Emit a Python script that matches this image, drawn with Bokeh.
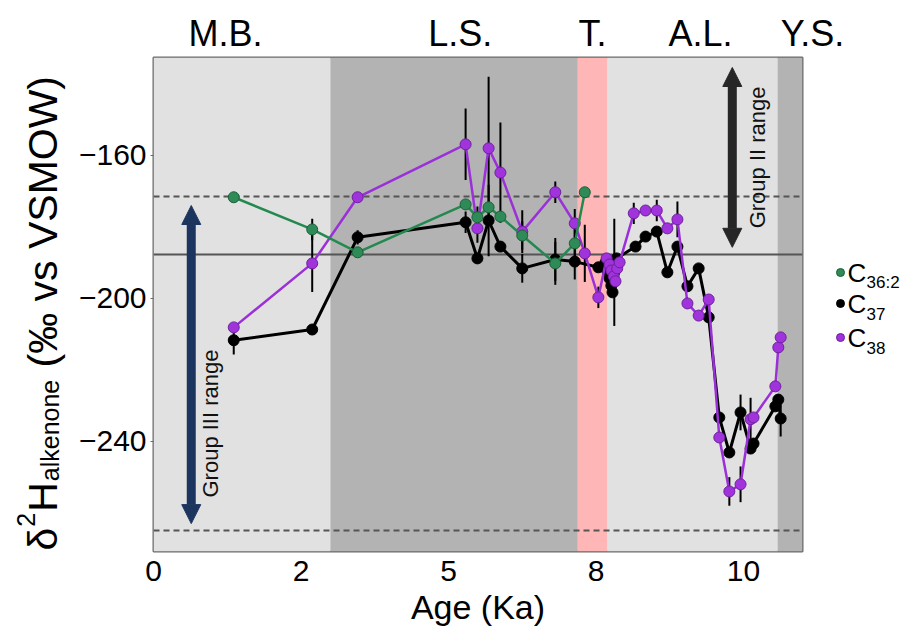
import math
from bokeh.plotting import figure
from bokeh.layouts import row, column
from bokeh.models import Range1d, FixedTicker, Span, Arrow, NormalHead, BoxAnnotation, ColumnDataSource, Label
from bokeh.core.properties import value
from bokeh.embed import file_html
from bokeh.resources import INLINE

# ---------------- data ----------------
c362_age = [1.36, 2.69, 3.46, 5.29, 5.49, 5.68, 5.88, 6.25, 6.81, 7.14, 7.31]
c362_d2h = [-171.7, -180.7, -187.1, -173.7, -177.3, -174.5, -177.1, -182.4, -190.2, -184.6, -170.3]
c362_err = [0, 3, 0, 0, 3, 0, 0, 4, 6, 5, 0]

c37_age = [1.36, 2.69, 3.46, 5.29, 5.49, 5.68, 5.88, 6.25, 6.81, 7.14, 7.54,
           7.66, 7.69, 7.73, 7.76, 7.78, 7.81, 7.85,
           8.17, 8.34, 8.53, 8.71, 8.88, 9.05, 9.24, 9.41, 9.59, 9.76, 9.95, 10.12, 10.17, 10.54, 10.59, 10.63]
c37_d2h = [-211.7, -208.7, -182.9, -178.7, -188.8, -178.2, -185.5, -191.6, -189.1, -189.7, -191.3,
           -190.0, -192.2, -194.4, -196.4, -198.3, -192.7, -188.8,
           -185.5, -182.7, -181.3, -192.7, -185.5, -196.6, -191.6, -205.3, -233.3, -243.1, -231.9, -242.0, -240.6, -230.2, -228.3, -233.6]
c37_err = [4, 0, 2, 3, 0, 10, 0, 4, 6, 5, 0,
           0, 0, 0, 0, 0, 15, 0,
           0, 0, 0, 0, 0, 0, 0, 0, 0, 0, 5, 0, 0, 0, 0, 5]

c38_age = [1.36, 2.69, 3.46, 5.29, 5.49, 5.68, 5.88, 6.25, 6.81, 7.14, 7.31, 7.54,
           7.68, 7.73, 7.76, 7.80, 7.83, 7.86, 7.90,
           8.14, 8.34, 8.53, 8.71, 8.88, 9.05, 9.24, 9.41, 9.59, 9.76, 9.95, 10.12, 10.17, 10.54, 10.59, 10.63]
c38_d2h = [-208.1, -190.2, -171.7, -156.9, -180.4, -158.0, -164.8, -181.3, -170.3, -179.0, -187.4, -199.7,
           -188.8, -190.5, -192.2, -193.8, -195.2, -191.6, -189.9,
           -176.2, -175.4, -175.4, -180.4, -177.9, -201.4, -204.8, -200.3, -238.9, -254.0, -252.0, -233.8, -233.3, -224.6, -213.7, -210.9]
c38_err = [0, 8, 0, 10, 4, 20, 14, 6, 3, 4, 8, 3,
           0, 0, 0, 0, 0, 0, 0,
           3, 0, 3, 0, 5, 0, 0, 0, 0, 4, 5, 6, 0, 0, 0, 0]

band_names = ["M.B.", "L.S.", "T.", "A.L.", "Y.S."]
band_left = [0.0, 3.0, 7.19, 7.69, 10.58]
band_right = [3.0, 7.19, 7.69, 10.58, 11.0]
band_colors = ["#e1e1e1", "#b3b3b3", "#ffb6b6", "#e1e1e1", "#b3b3b3"]
band_label_x = [1.22, 5.2, 7.44, 9.27, 11.17]

dashed_levels = [-171.5, -264.9]
solid_levels = [-187.7]

group2_range = [-135.4, -185.7]
group3_range = [-174.0, -263.0]

x_tick_pos = [0, 2.5, 5, 7.5, 10]
x_tick_lab = ["0", "2", "5", "8", "10"]
y_tick_pos = [-160, -200, -240]

legend_subs = ["36:2", "37", "38"]
legend_colors = ["#2e8b57", "#000000", "#a033dc"]
legend_lines = ["#1b5e38", "#000000", "#6c1f9c"]

FONT = "Liberation Sans"

# ---------------- layout geometry (page pixels) ----------------
W, H = 919, 639
FR_L, FR_T, FR_R, FR_B = 153, 57, 802, 551
X0, X1 = 0.0, 11.0
Y0, Y1 = -270.8, -132.6
TOP_H = 55
LEFT_W = 70
RIGHT_X = 804
BORDER_T = FR_T - TOP_H
BORDER_B = H - FR_B


def dx(px):
    return X0 + (px - FR_L) * (X1 - X0) / (FR_R - FR_L)


def dy(py):
    return Y1 - (py - FR_T) * (Y1 - Y0) / (FR_B - FR_T)


def blank(width, height, x_range, y_range, btop=0, bbot=0):
    f = figure(width=width, height=height, output_backend="svg", toolbar_location=None,
               x_range=x_range, y_range=y_range, x_axis_location=None, y_axis_location=None,
               min_border_left=0, min_border_right=0, min_border_top=btop, min_border_bottom=bbot)
    f.outline_line_color = None
    f.grid.visible = False
    f.background_fill_color = "white"
    f.border_fill_color = "white"
    return f


# ---------------- main figure ----------------
main_w = RIGHT_X - LEFT_W
p = figure(width=main_w, height=H - TOP_H, output_backend="svg", toolbar_location=None,
           x_range=Range1d(X0, X1), y_range=Range1d(Y0, Y1),
           min_border_left=FR_L - LEFT_W, min_border_right=RIGHT_X - FR_R,
           min_border_top=BORDER_T, min_border_bottom=BORDER_B)
p.background_fill_color = "#e1e1e1"
p.border_fill_color = "white"
p.outline_line_color = "#6a6a6a"
p.outline_line_width = 2
p.grid.visible = False

p.xaxis.ticker = FixedTicker(ticks=x_tick_pos)
p.xaxis.major_label_overrides = {t: l for t, l in zip(x_tick_pos, x_tick_lab)}
p.yaxis.ticker = FixedTicker(ticks=y_tick_pos)
for ax in (p.xaxis, p.yaxis):
    ax.axis_line_color = None
    ax.minor_tick_line_color = None
    ax.major_label_text_font = FONT
    ax.major_label_text_font_size = "30px"
    ax.major_label_text_color = "black"
    ax.major_tick_in = 0
p.xaxis.major_tick_out = 0
p.xaxis.major_label_standoff = 9
p.yaxis.major_tick_out = 3
p.yaxis.major_tick_line_color = "#6a6a6a"
p.yaxis.major_label_standoff = 4
p.xaxis.axis_label = "Age (Ka)"
p.xaxis.axis_label_text_font = FONT
p.xaxis.axis_label_text_font_size = "34px"
p.xaxis.axis_label_text_font_style = "normal"
p.xaxis.axis_label_text_color = "black"
p.xaxis.axis_label_standoff = 4

for l, r, c in zip(band_left, band_right, band_colors):
    p.add_layout(BoxAnnotation(left=l, right=r, fill_color=c, fill_alpha=1.0,
                               line_color=None, level="underlay"))
for lv in dashed_levels:
    p.add_layout(Span(location=lv, dimension="width", line_color="#555555",
                      line_width=2, line_dash="6 4", level="underlay"))
for lv in solid_levels:
    p.add_layout(Span(location=lv, dimension="width", line_color="#555555",
                      line_width=2, level="underlay"))

p.add_layout(Arrow(x_start=9.81, y_start=group2_range[1], x_end=9.81, y_end=group2_range[0],
                   line_color="#262626", line_width=9,
                   start=NormalHead(size=19, fill_color="#262626", line_color="#262626"),
                   end=NormalHead(size=19, fill_color="#262626", line_color="#262626")))
p.add_layout(Label(x=10.24, y=(group2_range[0] + group2_range[1]) / 2, text="Group II range",
                   angle=math.pi / 2, text_font=FONT, text_font_size="22px",
                   text_align="center", text_baseline="middle", text_color="#111111"))
p.add_layout(Arrow(x_start=0.64, y_start=group3_range[0], x_end=0.64, y_end=group3_range[1],
                   line_color="#1c355e", line_width=9,
                   start=NormalHead(size=19, fill_color="#1c355e", line_color="#1c355e"),
                   end=NormalHead(size=19, fill_color="#1c355e", line_color="#1c355e")))
p.add_layout(Label(x=0.97, y=-235.0, text="Group III range",
                   angle=math.pi / 2, text_font=FONT, text_font_size="22px",
                   text_align="center", text_baseline="middle", text_color="#111111"))

series = [
    (c37_age, c37_d2h, c37_err, "#000000", "#000000", "black", 3.0),
    (c38_age, c38_d2h, c38_err, "#a033dc", "#6c1f9c", "#9b30d9", 2.5),
    (c362_age, c362_d2h, c362_err, "#2e8b57", "#1b5e38", "#23894f", 2.5),
]
for xs, ys, es, fc, lc, linec, lw in series:
    ex = [x for x, e in zip(xs, es) if e > 0]
    e0 = [y - e for y, e in zip(ys, es) if e > 0]
    e1 = [y + e for y, e in zip(ys, es) if e > 0]
    p.segment(x0=ex, y0=e0, x1=ex, y1=e1, line_color="black", line_width=2)
for xs, ys, es, fc, lc, linec, lw in series:
    src = ColumnDataSource(dict(x=xs, y=ys))
    p.line("x", "y", source=src, line_color=linec, line_width=lw)
    p.scatter("x", "y", source=src, size=11, fill_color=fc, line_color=lc, line_width=1)

# ---------------- top strip: period names ----------------
top = blank(W, TOP_H, Range1d(dx(0), dx(W)), Range1d(dy(TOP_H), dy(0)))
top.text(x=band_label_x, y=[dy(33)] * len(band_names), text=band_names,
         text_font=value(FONT), text_font_size=value("36px"), text_color="black",
         text_align="center", text_baseline="middle")

# ---------------- left strip: y-axis title (frame aligned with main frame) ----------------
left = blank(LEFT_W, H - TOP_H, Range1d(dx(0), dx(LEFT_W)), p.y_range, BORDER_T, BORDER_B)
base_px, start_py = 42, 550
# (text, font px, shift across the baseline, advance in em, extra gap in em after it)
pieces = [("\u03b4", 41, 0, 0.556, 0.0), ("2", 25, -17, 0.556, 0.0), ("H", 41, 0, 0.722, 0.0),
          ("alkenone", 25, 7, 4.058, 0.45), ("(\u2030 vs VSMOW)", 41, 0, 7.111, 0.0)]
off = 0.0
for txt, fs, xo, wem, gap in pieces:
    left.text(x=[dx(base_px + xo)], y=[dy(start_py - off)], text=[txt], angle=math.pi / 2,
              text_font=value(FONT), text_font_size=value(f"{fs}px"), text_color="black",
              text_align="left", text_baseline="alphabetic")
    off += fs * (wem + gap) + 1

# ---------------- right strip: legend (frame aligned with main frame) ----------------
right = blank(W - RIGHT_X, H - TOP_H, Range1d(dx(RIGHT_X), dx(W)), p.y_range, BORDER_T, BORDER_B)
row_py = [272, 303, 337]
mx = dx(840)
ly = [dy(v) for v in row_py]
right.scatter(x=[mx] * 3, y=ly, size=8, fill_color=legend_colors, line_color=legend_lines, line_width=1)
right.text(x=[dx(847)] * 3, y=ly, text=["C"] * 3, text_font=value(FONT), text_font_size=value("26px"),
           text_color="black", text_align="left", text_baseline="middle")
right.text(x=[dx(866)] * 3, y=[dy(v + 10) for v in row_py], text=legend_subs, text_font=value(FONT),
           text_font_size=value("17px"), text_color="black", text_align="left", text_baseline="middle")

layout = column(top, row(left, p, right, spacing=0), spacing=0)
open("out.html", "w").write(file_html(layout, INLINE))
